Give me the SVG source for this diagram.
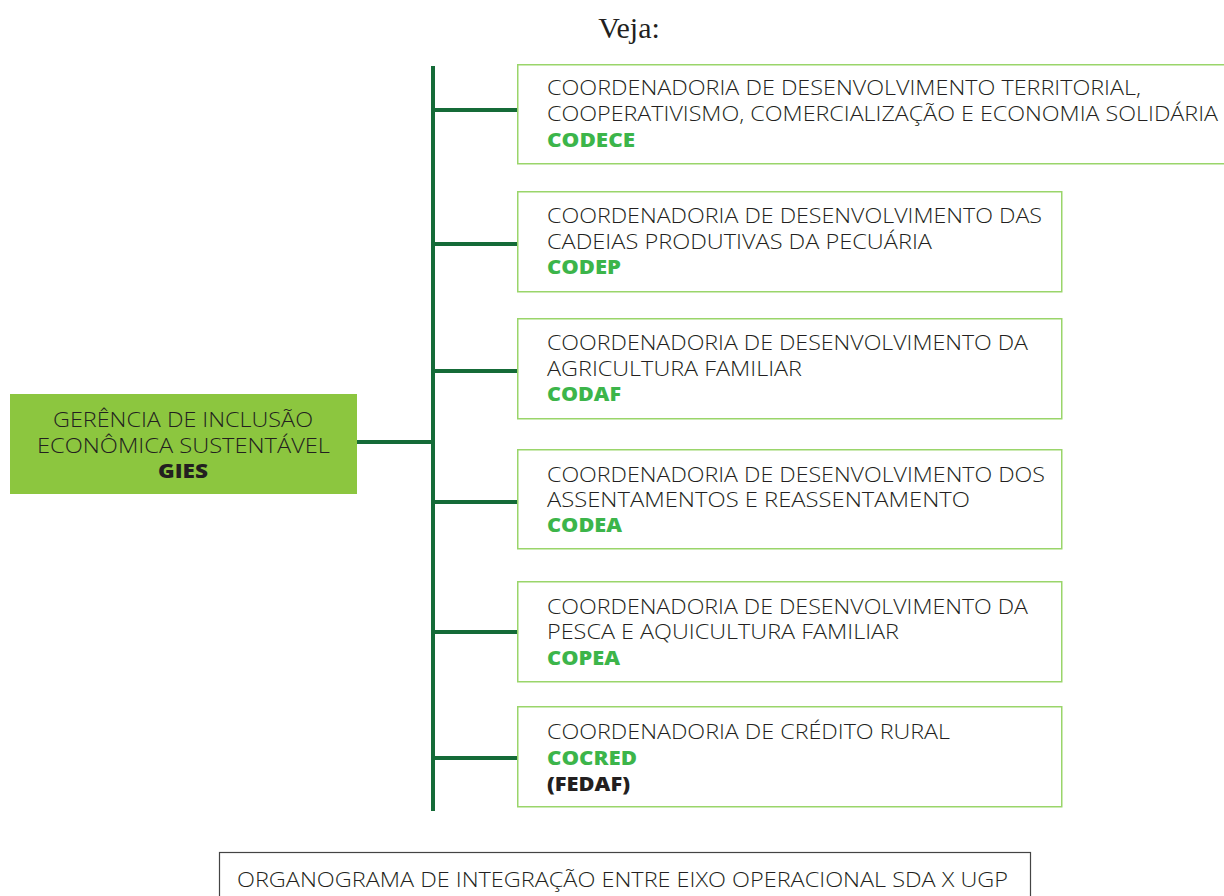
<svg xmlns="http://www.w3.org/2000/svg" width="1224" height="896" viewBox="0 0 1224 896">
<style>
.t{font-family:"Open Sans",Lato,sans-serif;font-size:20px;fill:#231f20;font-weight:300}
.c{font-family:"Open Sans",Lato,sans-serif;font-size:20px;fill:#3cb54a;font-weight:800}
.k{font-family:"Open Sans",Lato,sans-serif;font-size:20px;fill:#231f20;font-weight:800}
.box{fill:#fff;stroke:#9ad56a;stroke-width:1.5}
.ln{stroke:#156b38;stroke-width:4;fill:none}
</style>
<rect width="1224" height="896" fill="#fff"/>
<text x="629" y="38" text-anchor="middle" style="font-family:'Liberation Serif',serif;font-size:30px;fill:#231f20">Veja:</text>
<g id="connectors">
<line class="ln" x1="433" y1="66" x2="433" y2="811"/>
<line class="ln" x1="357" y1="442" x2="433" y2="442"/>
<line class="ln" x1="433" y1="110" x2="518" y2="110"/>
<line class="ln" x1="433" y1="244" x2="518" y2="244"/>
<line class="ln" x1="433" y1="371" x2="518" y2="371"/>
<line class="ln" x1="433" y1="502" x2="518" y2="502"/>
<line class="ln" x1="433" y1="632" x2="518" y2="632"/>
<line class="ln" x1="433" y1="758" x2="518" y2="758"/>
</g>
<g id="gies">
<rect x="10" y="394" width="347" height="100" fill="#8cc63f"/>
<text class="t" x="53" y="427" textLength="260" lengthAdjust="spacingAndGlyphs">GERÊNCIA DE INCLUSÃO</text>
<text class="t" x="37" y="453" textLength="293" lengthAdjust="spacingAndGlyphs">ECONÔMICA SUSTENTÁVEL</text>
<text class="k" x="158" y="478" textLength="50" lengthAdjust="spacingAndGlyphs">GIES</text>
</g>
<g id="codece">
<rect class="box" x="517.75" y="64.75" width="710" height="99"/>
<text class="t" x="547" y="95" textLength="594" lengthAdjust="spacingAndGlyphs">COORDENADORIA DE DESENVOLVIMENTO TERRITORIAL,</text>
<text class="t" x="547" y="121" textLength="671" lengthAdjust="spacingAndGlyphs">COOPERATIVISMO, COMERCIALIZAÇÃO E ECONOMIA SOLIDÁRIA</text>
<text class="c" x="547" y="147" textLength="88" lengthAdjust="spacingAndGlyphs">CODECE</text>
</g>
<g id="codep">
<rect class="box" x="517.75" y="191.75" width="544" height="100"/>
<text class="t" x="547" y="223" textLength="495" lengthAdjust="spacingAndGlyphs">COORDENADORIA DE DESENVOLVIMENTO DAS</text>
<text class="t" x="547" y="249" textLength="385" lengthAdjust="spacingAndGlyphs">CADEIAS PRODUTIVAS DA PECUÁRIA</text>
<text class="c" x="547" y="274" textLength="74" lengthAdjust="spacingAndGlyphs">CODEP</text>
</g>
<g id="codaf">
<rect class="box" x="517.75" y="318.75" width="544" height="100"/>
<text class="t" x="547" y="350" textLength="481" lengthAdjust="spacingAndGlyphs">COORDENADORIA DE DESENVOLVIMENTO DA</text>
<text class="t" x="547" y="376" textLength="255" lengthAdjust="spacingAndGlyphs">AGRICULTURA FAMILIAR</text>
<text class="c" x="547" y="401" textLength="74" lengthAdjust="spacingAndGlyphs">CODAF</text>
</g>
<g id="codea">
<rect class="box" x="517.75" y="449.75" width="544" height="99"/>
<text class="t" x="547" y="482" textLength="498" lengthAdjust="spacingAndGlyphs">COORDENADORIA DE DESENVOLVIMENTO DOS</text>
<text class="t" x="547" y="507" textLength="423" lengthAdjust="spacingAndGlyphs">ASSENTAMENTOS E REASSENTAMENTO</text>
<text class="c" x="547" y="532" textLength="75" lengthAdjust="spacingAndGlyphs">CODEA</text>
</g>
<g id="copea">
<rect class="box" x="517.75" y="581.75" width="544" height="100"/>
<text class="t" x="547" y="614" textLength="481" lengthAdjust="spacingAndGlyphs">COORDENADORIA DE DESENVOLVIMENTO DA</text>
<text class="t" x="547" y="639" textLength="352" lengthAdjust="spacingAndGlyphs">PESCA E AQUICULTURA FAMILIAR</text>
<text class="c" x="547" y="665" textLength="73" lengthAdjust="spacingAndGlyphs">COPEA</text>
</g>
<g id="cocred">
<rect class="box" x="517.75" y="706.75" width="544" height="100"/>
<text class="t" x="547" y="739" textLength="403" lengthAdjust="spacingAndGlyphs">COORDENADORIA DE CRÉDITO RURAL</text>
<text class="c" x="547" y="765" textLength="90" lengthAdjust="spacingAndGlyphs">COCRED</text>
<text class="k" x="547" y="791" textLength="83" lengthAdjust="spacingAndGlyphs">(FEDAF)</text>
</g>
<g id="caption">
<rect x="219.5" y="852.5" width="811" height="60" fill="#fff" stroke="#444" stroke-width="1.2"/>
<text class="t" x="237" y="887" textLength="771" lengthAdjust="spacingAndGlyphs">ORGANOGRAMA DE INTEGRAÇÃO ENTRE EIXO OPERACIONAL SDA X UGP</text>
</g>
</svg>
